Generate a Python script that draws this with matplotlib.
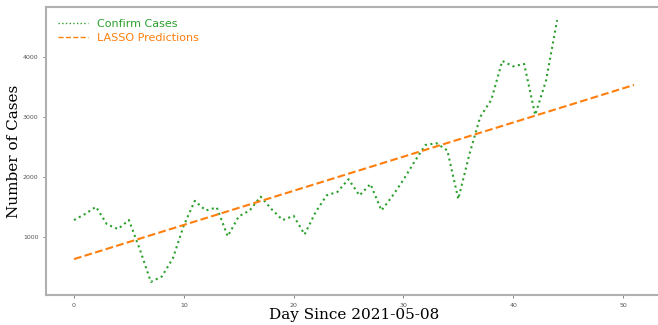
import matplotlib
matplotlib.use('Agg')
import matplotlib.pyplot as plt
import numpy as np

# daily confirmed cases (days 0..44)
CONFIRM_CASES = [
    1290, 1390, 1510, 1220, 1140, 1290, 800, 260, 350, 650,
    1200, 1610, 1450, 1500, 1020, 1350, 1450, 1680, 1470, 1290,
    1360, 1050, 1420, 1700, 1760, 1970, 1700, 1890, 1450, 1690,
    1960, 2260, 2540, 2570, 2450, 1640, 2380, 3010, 3290, 3940,
    3850, 3890, 3040, 3620, 4620,
]
# LASSO fit, endpoints of the straight prediction line (days 0..51)
LASSO_START = 640
LASSO_END = 3540
N_PRED_DAYS = 52

GREY = '#b0b0b0'


def main():
    days = np.arange(len(CONFIRM_CASES))
    pred_days = np.arange(N_PRED_DAYS)
    slope = (LASSO_END - LASSO_START) / (N_PRED_DAYS - 1)
    lasso = [LASSO_START + slope * d for d in pred_days]

    fig = plt.figure(figsize=(6.58, 3.25), dpi=100)
    # right edge of the axes sits just past the image, as in the cropped original
    ax = fig.add_axes([46 / 658, 30 / 325, 616 / 658, 288 / 325])

    ax.plot(days, CONFIRM_CASES, color='tab:green', linestyle=':',
            linewidth=1.5, label='Confirm Cases')
    ax.plot(pred_days, lasso, color='tab:orange', linestyle='--',
            linewidth=1.5, label='LASSO Predictions')

    ax.set_xticks([0, 10, 20, 30, 40, 50])
    ax.set_yticks([1000, 2000, 3000, 4000])
    ax.tick_params(labelsize=4.5, colors='#555555', length=2, width=0.5)
    for side in ['left', 'bottom', 'top']:
        ax.spines[side].set_color(GREY)
        ax.spines[side].set_linewidth(1.5)
    ax.spines['right'].set_visible(False)

    ax.set_xlabel('Day Since 2021-05-08', family='DejaVu Serif',
                  fontsize=11, labelpad=0)
    ax.set_ylabel('Number of Cases', family='DejaVu Serif',
                  fontsize=11, labelpad=1)

    leg = ax.legend(loc='upper left', frameon=False, fontsize=8,
                    handlelength=2.7, borderaxespad=0.7, labelspacing=0.35)
    for text, line in zip(leg.get_texts(), leg.get_lines()):
        text.set_color(line.get_color())
        line.set_linewidth(1.0)

    fig.savefig('out.png', dpi=100)
    plt.close(fig)


if __name__ == "__main__":
    main()
